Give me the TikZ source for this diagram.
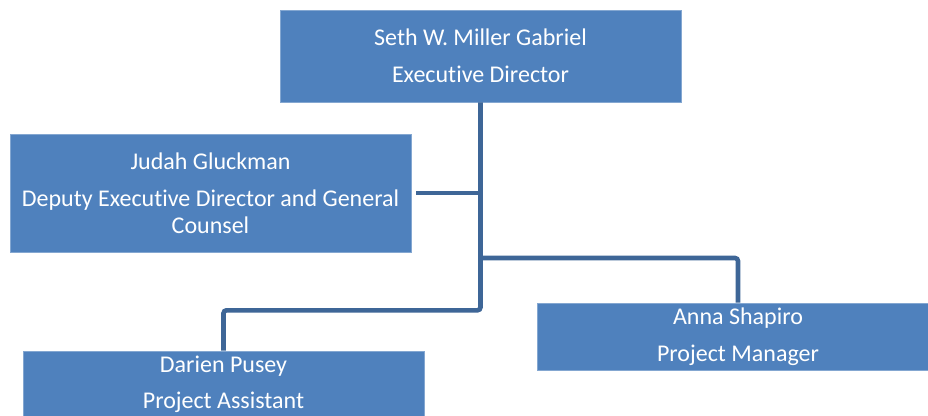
\documentclass[tikz,border=0pt]{standalone}
\usepackage{fontspec}
\setmainfont{Carlito}[Ligatures={NoCommon}]
\definecolor{boxblue}{HTML}{4F81BD}
\definecolor{lineblue}{HTML}{3E6697}
\begin{document}
\begin{tikzpicture}[x=1pt,y=-1pt,
  orgbox/.style={fill=boxblue, draw=boxblue!70!white, line width=0.6pt, text=white, align=center,
    inner sep=0pt, minimum width=401pt,
    font=\fontsize{24}{27}\selectfont},
  link/.style={draw=lineblue, line width=4.6pt, rounded corners=3pt}]
\useasboundingbox (0,0) rectangle (928,415);
\clip (0,0) rectangle (928,415);
\node[orgbox, minimum height=92pt] (top) at (480.5,56) {Seth W. Miller Gabriel\\[9.5pt]Executive Director};
\node[orgbox, minimum height=118pt] (judah) at (210.5,193) {Judah Gluckman\\[10pt]Deputy Executive Director and General\\Counsel};
\node[orgbox, minimum height=67pt] (darien) at (223.5,384.5) {Darien Pusey\\[9.5pt]Project Assistant};
\node[orgbox, minimum height=67pt] (anna) at (738,336.5) {Anna Shapiro\\[9.5pt]Project Manager};
\coordinate (jl) at ([xshift=5pt]judah.east);
\draw[link] (top.south) -- ++(0,208) -| (darien.north);
\draw[link] (top.south |- 0,258) -| (anna.north);
\draw[link] (jl) -- (top.south |- jl);
\end{tikzpicture}
\end{document}
